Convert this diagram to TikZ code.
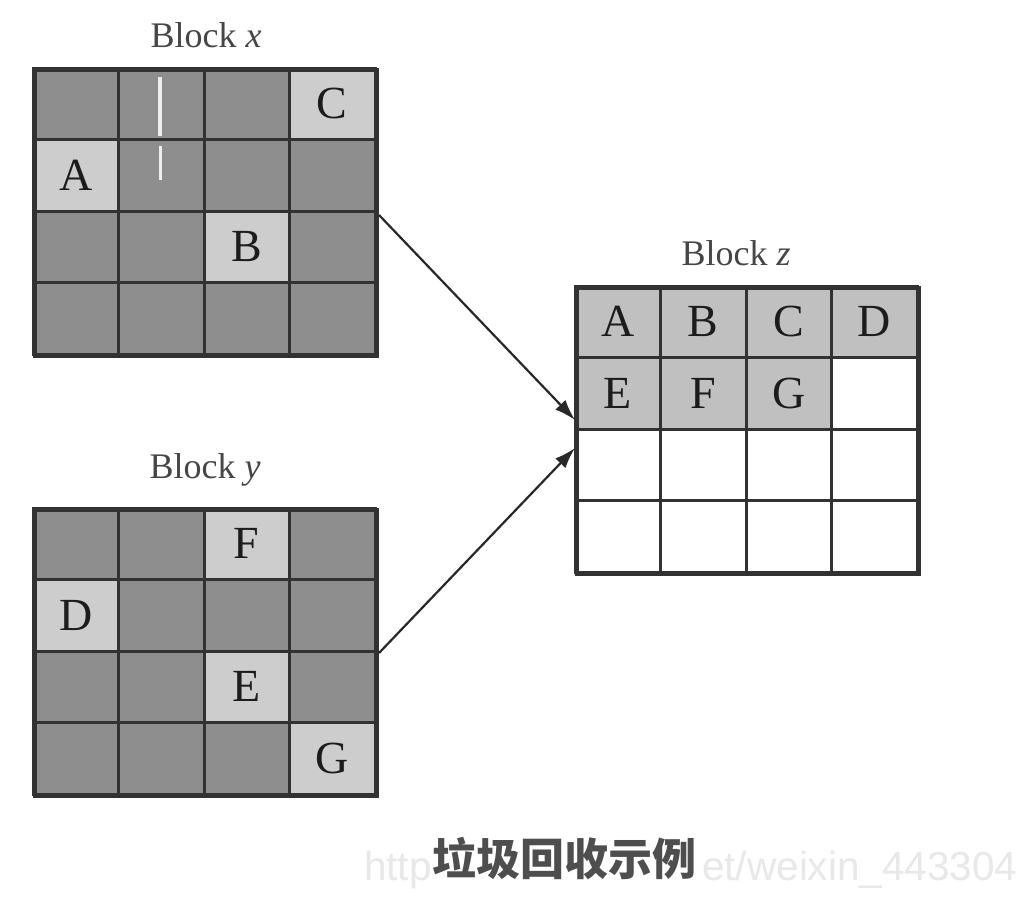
\documentclass[tikz,border=0pt]{standalone}
\usepackage{fontspec}
\setmainfont{Liberation Serif}
\newfontfamily\cjk{Noto Sans CJK SC}
\newfontfamily\wmfont{Liberation Sans}
\usetikzlibrary{arrows.meta}
\definecolor{darkcell}{RGB}{142,142,142}
\definecolor{lightcell}{RGB}{205,205,205}
\definecolor{zcell}{RGB}{192,192,192}
\definecolor{gridline}{RGB}{50,50,50}
\definecolor{inkc}{RGB}{28,28,28}
\definecolor{titlec}{RGB}{70,70,70}
\definecolor{capc}{RGB}{78,78,78}
\definecolor{wmc}{RGB}{232,232,232}
\tikzset{
 cellbox/.style={draw=gridline, line width=3pt, minimum width=85.5pt, minimum height=71.5pt, inner sep=0pt, text=inkc, font=\fontsize{46}{50}\selectfont},
 blockframe/.style={draw=gridline, line width=4pt, minimum width=342pt, minimum height=286pt, inner sep=0pt, anchor=north west},
 blocktitle/.style={text=titlec, font=\fontsize{36}{40}\selectfont, anchor=base, inner sep=0pt},
 flow/.style={draw=gridline!80!black, line width=2.2pt, -{Latex[length=21pt,width=14pt]}},
 scratch/.style={draw=white, opacity=0.85},
 watermark/.style={anchor=base west, inner sep=0pt, text=wmc, font=\wmfont\fontsize{40.5}{44}\selectfont},
}
\begin{document}
\begin{tikzpicture}[x=1pt,y=-1pt]
\useasboundingbox[fill=white] (0,0) rectangle (1024,897);
% grid cells
\foreach \b/\ox/\oy/\f in {x/33/68/darkcell, y/33/508/darkcell, z/575/286/white}
  \foreach \r in {0,1,2,3}
    \foreach \c in {0,1,2,3}
      \node[cellbox, fill=\f] (\b\r\c) at ({\ox+85.5*(\c+0.5)},{\oy+71.5*(\r+0.5)}) {};
% Block x marked cells
\node[cellbox, fill=lightcell] (xC) at (x03) {C};
\node[cellbox, fill=lightcell] (xA) at (x10) {A};
\node[cellbox, fill=lightcell] (xB) at (x22) {B};
% Block y marked cells
\node[cellbox, fill=lightcell] (yF) at (y02) {F};
\node[cellbox, fill=lightcell] (yD) at (y10) {D};
\node[cellbox, fill=lightcell] (yE) at (y22) {E};
\node[cellbox, fill=lightcell] (yG) at (y33) {G};
% Block z compacted cells
\node[cellbox, fill=zcell] (zA) at (z00) {A};
\node[cellbox, fill=zcell] (zB) at (z01) {B};
\node[cellbox, fill=zcell] (zC) at (z02) {C};
\node[cellbox, fill=zcell] (zD) at (z03) {D};
\node[cellbox, fill=zcell] (zE) at (z10) {E};
\node[cellbox, fill=zcell] (zF) at (z11) {F};
\node[cellbox, fill=zcell] (zG) at (z12) {G};
% scratch mark in block x
\draw[scratch, line width=4pt] (160,77) -- (160,136);
\draw[scratch, line width=3pt] (160,146) -- (160,180);
% frames
\node[blockframe] (bx) at (33,68) {};
\node[blockframe] (by) at (33,508) {};
\node[blockframe] (bz) at (575,286) {};
% titles
\node[blocktitle] (tx) at (206,47) {Block \textit{x}};
\node[blocktitle] (ty) at (205,478) {Block \textit{y}};
\node[blocktitle] (tz) at (736,265) {Block \textit{z}};
% arrows
\draw[flow] ([yshift=-2pt]bx.east) -- ([yshift=11pt]bz.west);
\draw[flow] (by.east) -- ([yshift=-17pt]bz.west);
% watermark pieces and caption
\node[watermark] (wm1) at (364,880) {http};
\node[watermark] (wm2) at (702,880) {et/weixin\_443304};
\node[inner xsep=1pt, inner ysep=4pt, text=capc, font=\cjk\bfseries\fontsize{44}{48}\selectfont] (cap) at (564,859) {垃圾回收示例};
\end{tikzpicture}
\end{document}
